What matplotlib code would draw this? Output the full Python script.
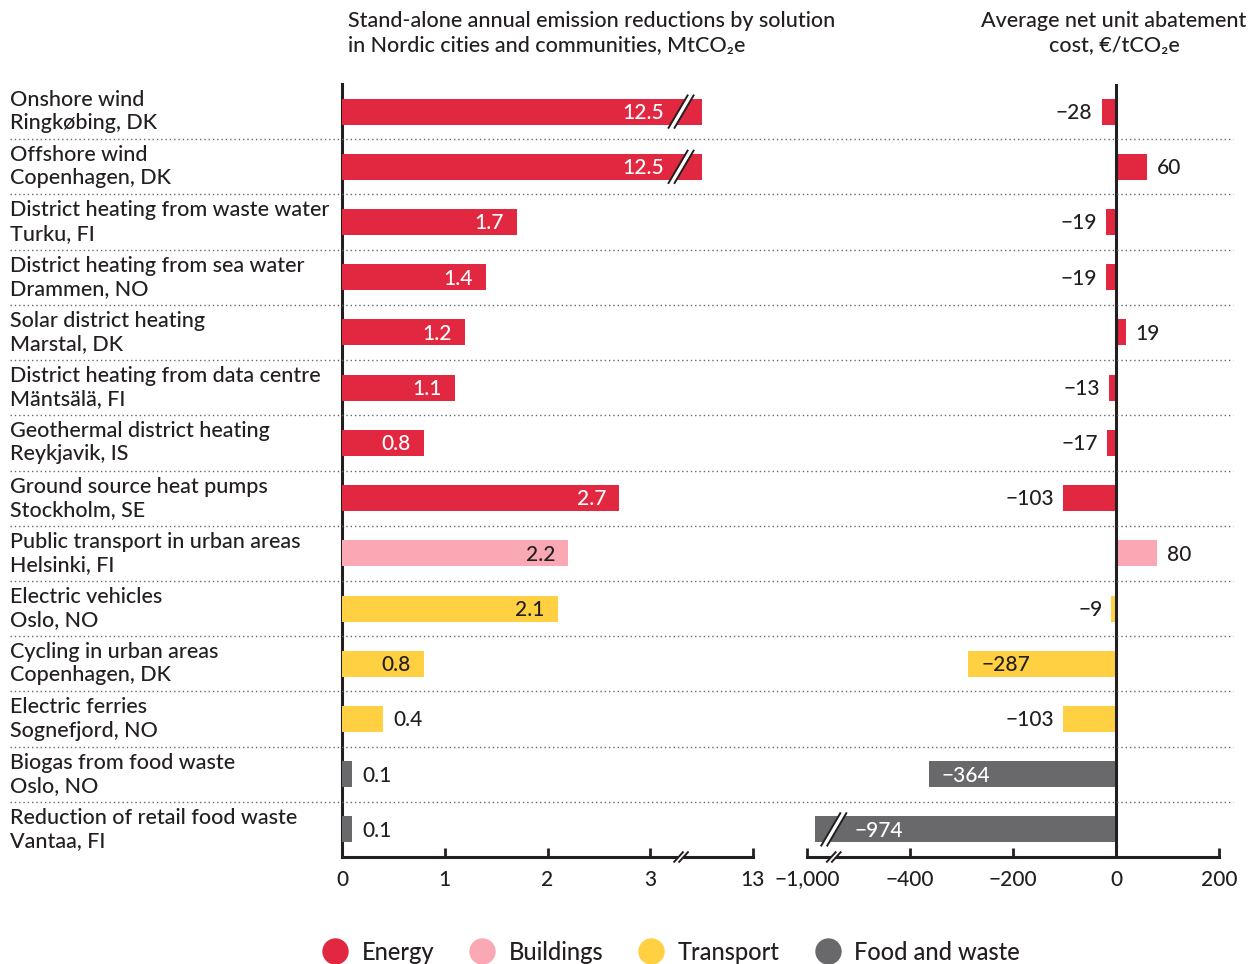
import matplotlib
matplotlib.use('Agg')
import numpy as np
import matplotlib.pyplot as plt
from matplotlib.lines import Line2D
from matplotlib.patches import Polygon
from matplotlib.transforms import blended_transform_factory

plt.rcParams['font.family'] = ['Lato', 'DejaVu Sans']
plt.rcParams['font.weight'] = 'medium'

# data
solutions = ['Onshore wind', 'Offshore wind', 'District heating from waste water',
             'District heating from sea water', 'Solar district heating',
             'District heating from data centre', 'Geothermal district heating',
             'Ground source heat pumps', 'Public transport in urban areas',
             'Electric vehicles', 'Cycling in urban areas', 'Electric ferries',
             'Biogas from food waste', 'Reduction of retail food waste']
places = ['Ringkøbing, DK', 'Copenhagen, DK', 'Turku, FI', 'Drammen, NO', 'Marstal, DK',
          'Mäntsälä, FI', 'Reykjavik, IS', 'Stockholm, SE', 'Helsinki, FI', 'Oslo, NO',
          'Copenhagen, DK', 'Sognefjord, NO', 'Oslo, NO', 'Vantaa, FI']
sectors = ['Energy'] * 8 + ['Buildings'] + ['Transport'] * 3 + ['Food and waste'] * 2
reductions = [12.5, 12.5, 1.7, 1.4, 1.2, 1.1, 0.8, 2.7, 2.2, 2.1, 0.8, 0.4, 0.1, 0.1]
costs = [-28, 60, -19, -19, 19, -13, -17, -103, 80, -9, -287, -103, -364, -974]

sector_names = ['Energy', 'Buildings', 'Transport', 'Food and waste']
sector_colors = ['#e12840', '#f9a8b4', '#ffd042', '#69696c']
left_ticks = [0, 1, 2, 3, 13]
right_ticks = [-1000, -400, -200, 0, 200]

DARK = '#231f20'
color_of = dict(zip(sector_names, sector_colors))
inner_text = {'Energy': 'white', 'Buildings': DARK, 'Transport': DARK, 'Food and waste': 'white'}

# broken axis layout
LEFT_CAP, LEFT_BREAK = 3.5, 3.3
RIGHT_CAP, RIGHT_BREAK = -585, -548


def left_pos(v):
    return v if v <= 3 else 3 + (v - 3) / 10


def right_pos(v):
    return v if v >= -500 else -600 + (v + 1000) / 5


def fmt(v):
    return f'{v:,}'.replace('-', '\u2212')


W, H = 1260, 964
fig = plt.figure(figsize=(W / 100, H / 100), dpi=100)
bottom, top = 1 - 857 / H, 1 - 84 / H
axL = fig.add_axes([342 / W, bottom, (753 - 342) / W, top - bottom])
axR = fig.add_axes([807 / W, bottom, (1219 - 807) / W, top - bottom])

n = len(solutions)
for ax in (axL, axR):
    ax.set_ylim(n - 0.5, -0.5)
    ax.set_yticks([])
    for s in ('top', 'right'):
        ax.spines[s].set_visible(False)
    ax.spines['bottom'].set_linewidth(2.2)
    ax.spines['bottom'].set_color(DARK)
    ax.tick_params(axis='x', direction='in', length=6.5, width=2, color=DARK,
                   labelsize=15, labelcolor=DARK, pad=9)
    ax.set_facecolor('none')

axL.set_xlim(0, left_pos(13))
axL.spines['left'].set_linewidth(2.2)
axL.spines['left'].set_color(DARK)
axL.set_xticks([left_pos(t) for t in left_ticks])
axL.set_xticklabels([fmt(t) for t in left_ticks])

axR.set_xlim(right_pos(-1000), 200)
axR.spines['left'].set_visible(False)
axR.set_xticks([right_pos(t) for t in right_ticks])
axR.set_xticklabels([fmt(t) for t in right_ticks])
axR.axvline(0, color=DARK, lw=2.2, zorder=4)


def shift(ax, x, yv, dx, dy):
    d = ax.transData.transform((x, yv))
    return ax.transData.inverted().transform((d[0] + dx, d[1] + dy))


def draw_break(ax, x, yv, hw, hh, gap, lw):
    a0 = shift(ax, x, yv, -hw - gap / 2, -hh)
    a1 = shift(ax, x, yv, hw - gap / 2, hh)
    b0 = shift(ax, x, yv, -hw + gap / 2, -hh)
    b1 = shift(ax, x, yv, hw + gap / 2, hh)
    ax.add_patch(Polygon([a0, a1, b1, b0], closed=True, fc='white', ec='none',
                         zorder=6, clip_on=False))
    for p, q in ((a0, a1), (b0, b1)):
        ax.add_line(Line2D([p[0], q[0]], [p[1], q[1]], color=DARK, lw=lw,
                           zorder=7, clip_on=False, solid_capstyle='butt'))


bh = 0.47
to_pt = 0.72
# left panel bars
for i, (v, sec) in enumerate(zip(reductions, sectors)):
    broken = v > 3
    w = LEFT_CAP if broken else left_pos(v)
    axL.barh(i, w, height=bh, color=color_of[sec], zorder=3)
    if broken:
        draw_break(axL, LEFT_BREAK, i, 10, 17, 6, 1.4)
    if v >= 0.8:
        xa, dx, ha, c = (LEFT_BREAK, -17, 'right', inner_text[sec]) if broken else (w, -13, 'right', inner_text[sec])
    else:
        xa, dx, ha, c = w, 10, 'left', DARK
    axL.annotate(f'{v}', xy=(xa, i), xytext=(dx * to_pt, -1), textcoords='offset points',
                 ha=ha, va='center', fontsize=15, color=c, zorder=8)

# right panel bars
for i, (v, sec) in enumerate(zip(costs, sectors)):
    broken = v < -500
    start = RIGHT_CAP if broken else right_pos(v)
    axR.barh(i, start, height=bh, color=color_of[sec], zorder=3)
    if broken:
        draw_break(axR, RIGHT_BREAK, i, 10, 17, 6, 1.4)
    if v <= -200:
        xa, dx, ha, c = (RIGHT_BREAK, 21, 'left', inner_text[sec]) if broken else (start, 13, 'left', inner_text[sec])
    elif v < 0:
        xa, dx, ha, c = v, -9, 'right', DARK
    else:
        xa, dx, ha, c = v, 10, 'left', DARK
    axR.annotate(fmt(v), xy=(xa, i), xytext=(dx * to_pt, -1), textcoords='offset points',
                 ha=ha, va='center', fontsize=15, color=c, zorder=8)

# axis breaks on the bottom spines
draw_break(axL, LEFT_BREAK, n - 0.5, 5, 5.5, 5, 1.4)
draw_break(axR, RIGHT_BREAK, n - 0.5, 5, 5.5, 5, 1.4)

# row labels and dotted separators
blend = blended_transform_factory(fig.transFigure, axL.transData)
for i, (s, p) in enumerate(zip(solutions, places)):
    fig.text(10 / W, i, f'{s}\n{p}', transform=blend, ha='left', va='center',
             fontsize=15.5, color=DARK, linespacing=1.2)
for i in range(n - 1):
    fig.add_artist(Line2D([10 / W, 1233 / W], [i + 0.5, i + 0.5], transform=blend,
                          color='#666666', lw=1, linestyle=(0, (1, 2.1)), zorder=1))

fig.text(348 / W, 1 - 33 / H,
         'Stand-alone annual emission reductions by solution\nin Nordic cities and communities, MtCO\u2082e',
         ha='left', va='center', fontsize=15.5, color=DARK, linespacing=1.3)
fig.text(1114 / W, 1 - 33 / H, 'Average net unit abatement\ncost, \u20ac/tCO\u2082e',
         ha='center', va='center', multialignment='center', fontsize=15.5, color=DARK,
         linespacing=1.3)

handles = [Line2D([], [], marker='o', ls='none', markersize=19, markerfacecolor=c,
                  markeredgecolor='none') for c in sector_colors]
fig.legend(handles, sector_names, loc='center', bbox_to_anchor=(0.5325, 1 - 952 / H),
           ncol=4, frameon=False, fontsize=17, handlelength=1.1, handletextpad=0.55,
           columnspacing=1.5, borderpad=0, labelcolor=DARK)

fig.savefig('out.png', dpi=100)
